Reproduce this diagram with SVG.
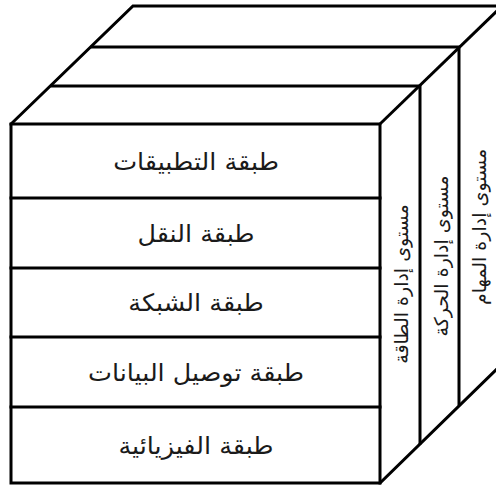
<svg xmlns="http://www.w3.org/2000/svg" width="496" height="489" viewBox="0 0 496 489">
<style>
.ln{fill:none;stroke:#000;stroke-width:3;stroke-linejoin:miter;stroke-linecap:square}
.t{font-family:"DejaVu Sans",Arial,sans-serif;font-size:24px;fill:#1a1a1a;text-anchor:middle;dominant-baseline:central}
.v{font-family:"DejaVu Sans",Arial,sans-serif;font-size:19px;fill:#1a1a1a;text-anchor:middle;dominant-baseline:central}
</style>
<rect width="496" height="489" fill="#fff"/>
<g id="cube-frame">
<polygon class="ln" points="11,124 133,6 502,6 502,364 380,483 11,483"/>
<polyline class="ln" points="11,124 380,124 380,483"/>
<polyline class="ln" points="380,124 502,6"/>
<polyline class="ln" points="52,86 420,86 420,443"/>
<polyline class="ln" points="92,47 459,47 459,404"/>
</g>
<g id="layer-app"><line class="ln" x1="11" y1="198" x2="380" y2="198"/><text class="t" direction="rtl" transform="translate(196,162) scale(1.06,1)">طبقة التطبيقات</text></g>
<g id="layer-transport"><line class="ln" x1="11" y1="268" x2="380" y2="268"/><text class="t" direction="rtl" transform="translate(196,234) scale(1.06,1)">طبقة النقل</text></g>
<g id="layer-network"><line class="ln" x1="11" y1="337" x2="380" y2="337"/><text class="t" direction="rtl" transform="translate(196,303) scale(1.06,1)">طبقة الشبكة</text></g>
<g id="layer-datalink"><line class="ln" x1="11" y1="407" x2="380" y2="407"/><text class="t" direction="rtl" transform="translate(196,373) scale(1.06,1)">طبقة توصيل البيانات</text></g>
<g id="layer-physical"><text class="t" direction="rtl" transform="translate(196,446) scale(1.06,1)">طبقة الفيزيائية</text></g>
<g id="plane-power"><text class="v" direction="rtl" transform="translate(401,284) rotate(-90)">مستوى إدارة الطاقة</text></g>
<g id="plane-mobility"><text class="v" direction="rtl" transform="translate(441,256) rotate(-90)">مستوى إدارة الحركة</text></g>
<g id="plane-task"><text class="v" direction="rtl" transform="translate(479,227) rotate(-90)">مستوى إدارة المهام</text></g>
</svg>
